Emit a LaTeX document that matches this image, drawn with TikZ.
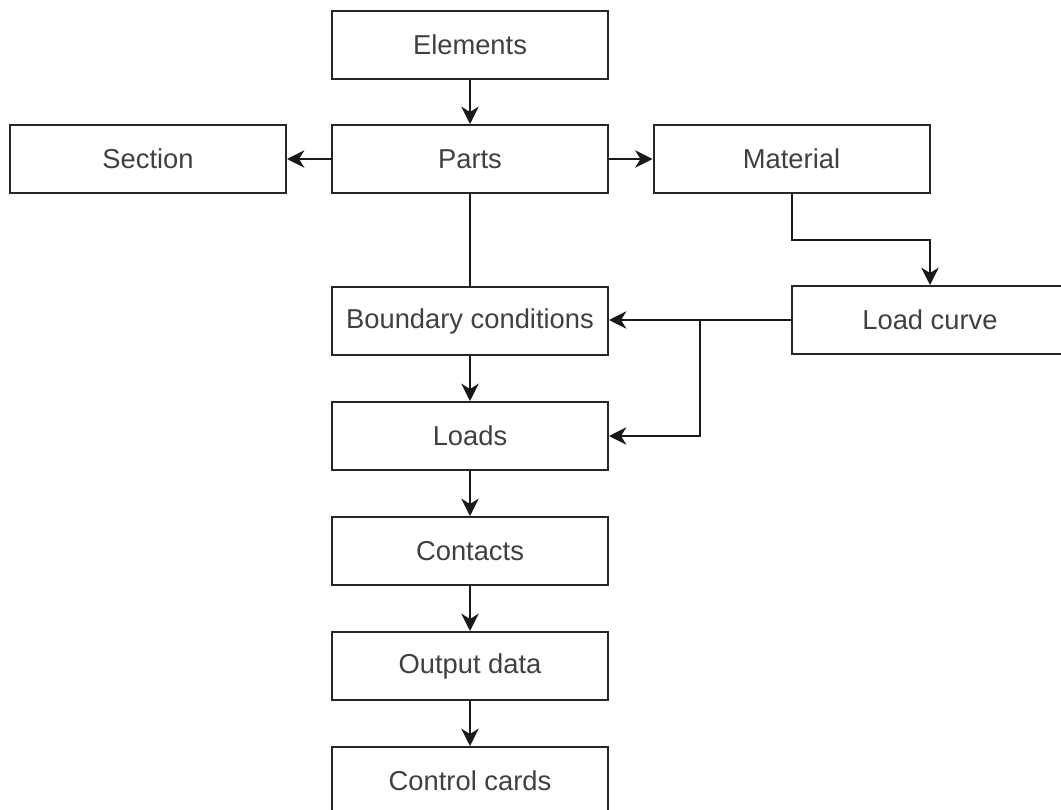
\documentclass[tikz,border=0pt]{standalone}
\usepackage{fontspec}
\setmainfont{Liberation Sans}
\usetikzlibrary{arrows.meta,calc}
\begin{document}
\begin{tikzpicture}[x=0.75pt,y=-0.75pt,
  box/.style={draw=black!85, line width=1.5pt, fill=white,
    minimum width=207pt, minimum height=51pt, inner sep=0pt,
    text=black!75, font=\fontsize{20.5}{24}\selectfont},
  link/.style={draw=black!90, line width=1.5pt},
  arrow/.style={link, -{Stealth[length=13pt,width=13pt,inset=4pt]}}]
\useasboundingbox (0,0) rectangle (1061,810);

% boxes
\node[box] (elem) at (470,44.5) {Elements};
\node[box] (sect) at (148,159) {Section};
\node[box] (parts) at (470,159) {Parts};
\node[box] (mat) at (791.5,159) {Material};
\node[box] (lc) at (930,320) {Load curve};
\node[box] (bc) at (470,321) {Boundary conditions};
\node[box] (loads) at (470,436) {Loads};
\node[box] (cont) at (470,551) {Contacts};
\node[box] (out) at (470,666) {Output data};
\node[box] (ctrl) at (470,781) {Control cards};

% connectors
\draw[arrow] (elem.south) -- (parts.north);
\draw[arrow] (parts.west) -- (sect.east);
\draw[arrow] (parts.east) -- (mat.west);
\draw[link] (parts.south) -- (bc.north);
\draw[arrow] (mat.south) |- ($(mat.south)!0.5!(lc.north)$) -| (lc.north);
\draw[arrow] (lc.west) -- (lc.west -| bc.east);
\coordinate (br) at (700,320);
\draw[arrow] (br) |- (loads.east);
\draw[arrow] (bc.south) -- (loads.north);
\draw[arrow] (loads.south) -- (cont.north);
\draw[arrow] (cont.south) -- (out.north);
\draw[arrow] (out.south) -- (ctrl.north);
\end{tikzpicture}
\end{document}
